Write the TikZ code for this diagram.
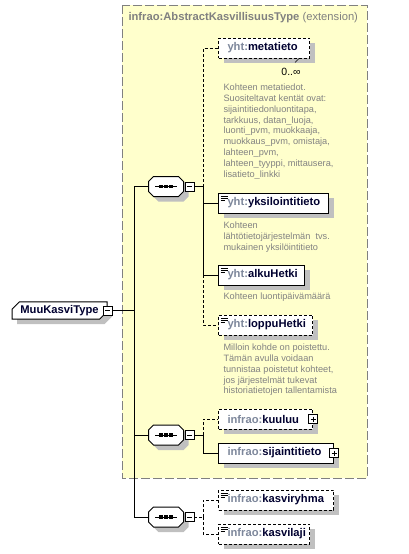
\documentclass[tikz,border=0pt]{standalone}
\usepackage{fontspec}
\setmainfont{Liberation Sans}
\usetikzlibrary{positioning, shapes.misc, shadows}
\definecolor{xsdyellow}{RGB}{255,255,204}
\definecolor{xsdframe}{RGB}{128,128,128}
\definecolor{xsdprefix}{RGB}{125,135,155}
\definecolor{xsdname}{RGB}{0,0,48}
\definecolor{xsddesc}{RGB}{130,130,130}
\definecolor{xsdshadow}{RGB}{192,192,192}
\newcommand{\elemfont}{\bfseries\fontsize{11.2}{13}\selectfont}
\newcommand{\descfont}{\fontsize{9.2}{10.8}\selectfont}
\newcommand{\qname}[2]{{\color{xsdprefix}#1:}{\color{xsdname}#2}}
% sequence compositor drawn round a named spot
\newcommand{\seqglyph}[1]{%
  \draw[fill=white, shade] ([xshift=5pt]#1.north west) -- ([xshift=-5pt]#1.north east)
    -- ([yshift=-5pt]#1.north east) -- ([yshift=5pt]#1.south east)
    -- ([xshift=-5pt]#1.south east) -- ([xshift=5pt]#1.south west)
    -- ([yshift=5pt]#1.south west) -- ([yshift=-5pt]#1.north west) -- cycle;
  \draw[line width=0.8pt] ([xshift=-11pt]#1.center) -- ([xshift=11pt]#1.center);
  \foreach \dx in {-5,0,5}
    \fill ([xshift=\dx pt]#1.center) +(-2,-1.8) rectangle +(2,1.8);
}

\begin{document}
\begin{tikzpicture}[
    x=1pt, y=-1pt, line width=1pt,
    shade/.style={drop shadow={shadow xshift=5pt, shadow yshift=-5pt, fill=xsdshadow, opacity=1}},
    opt/.style={dash pattern=on 3pt off 2pt},
    elem/.style={draw, fill=white, shade, anchor=west, minimum height=20pt, inner xsep=9pt, inner ysep=0pt, text width=#1, align=left, font=\elemfont},
    simple/.style={path picture={
        \draw[solid, line width=0.8pt] ([xshift=2pt, yshift=-3pt]path picture bounding box.north west) -- ++(7,0);
        \draw[solid, line width=0.8pt] ([xshift=2pt, yshift=-5pt]path picture bounding box.north west) -- ++(7,0);
        \draw[solid, line width=0.8pt] ([xshift=2pt, yshift=-7pt]path picture bounding box.north west) -- ++(4,0);
      }},
    toggle/.style={draw, solid, fill=white, minimum size=9pt, inner sep=0pt, line width=0.8pt},
    minus/.style={toggle, path picture={
        \draw ([xshift=2pt]path picture bounding box.west) -- ([xshift=-2pt]path picture bounding box.east);
      }},
    plus/.style={toggle, path picture={
        \draw ([xshift=2pt]path picture bounding box.west) -- ([xshift=-2pt]path picture bounding box.east);
        \draw ([yshift=-2pt]path picture bounding box.north) -- ([yshift=2pt]path picture bounding box.south);
      }},
    seqspot/.style={rectangle, minimum width=34pt, minimum height=19pt, inner sep=0pt},
    roottype/.style={chamfered rectangle, chamfered rectangle xsep=4pt, chamfered rectangle corners={north west, south east},
      draw, fill=white, shade, minimum width=95pt, minimum height=17pt, inner sep=0pt, font=\elemfont, text=xsdname},
    desc/.style={anchor=north west, inner sep=0pt, align=left, text=xsddesc, font=\descfont}
  ]
    \useasboundingbox (0,0) rectangle (409,554);

    % extension frame
    \draw[xsdframe, fill=xsdyellow, dash pattern=on 9pt off 3pt] (122,5) rectangle (367,478);
    \node[anchor=west, inner sep=0pt, text=xsdframe, font=\elemfont] (exttitle) at (128,18)
      {infrao:AbstractKasvillisuusType \mdseries(extension)};

    % root type
    \node[roottype] (root) at (59.5,310.5) {MuuKasviType\hspace{6pt}};
    \node[minus] (root-tog) at (root.east) {};

    % sequences
    \node[seqspot] (seq1) at (166,186.5) {};
    \seqglyph{seq1}
    \node[minus, right=1pt of seq1] (seq1-tog) {};
    \node[seqspot] (seq2) at (166,435) {};
    \seqglyph{seq2}
    \node[minus, right=1pt of seq2] (seq2-tog) {};
    \node[seqspot] (seq3) at (166,517) {};
    \seqglyph{seq3}
    \node[minus, right=1pt of seq3] (seq3-tog) {};

    % elements
    \node[elem=73pt, opt] (metatieto) at (218,48) {\qname{yht}{metatieto}};
    \node[font=\fontsize{10.5}{12}\selectfont, inner sep=0pt] (metaocc) at (291,72) {0..∞};
    \draw[line width=0.7pt] ([xshift=-11pt]metatieto.south east) -- ++(-4,4);
    \node[desc] (metatieto-doc) at (223,83.5) {Kohteen metatiedot.\\
      Suositeltavat kentät ovat:\\ sijaintitiedonluontitapa,\\ tarkkuus, datan\_luoja,\\
      luonti\_pvm, muokkaaja,\\ muokkaus\_pvm, omistaja,\\ lahteen\_pvm,\\
      lahteen\_tyyppi, mittausera,\\ lisatieto\_linkki};

    \node[elem=92pt, simple] (yksilointitieto) at (218,203) {\qname{yht}{yksilointitieto}};
    \node[desc] (yksilointitieto-doc) at (223,221.5) {Kohteen\\
      lähtötietojärjestelmän\ \ tvs.\\ mukainen yksilöintitieto};

    \node[elem=68pt, simple] (alkuHetki) at (218,275) {\qname{yht}{alkuHetki}};
    \node[desc] (alkuHetki-doc) at (223,292.5) {Kohteen luontipäivämäärä};

    \node[elem=76pt, simple, opt] (loppuHetki) at (218,325) {\qname{yht}{loppuHetki}};
    \node[desc] (loppuHetki-doc) at (223,343.5) {Milloin kohde on poistettu.\\
      Tämän avulla voidaan\\ tunnistaa poistetut kohteet,\\ jos järjestelmät tukevat\\
      historiatietojen tallentamista};

    \node[elem=76pt, opt] (kuuluu) at (218,419) {\qname{infrao}{kuuluu}};
    \node[plus] (kuuluu-tog) at (kuuluu.east) {};
    \node[elem=97pt] (sijaintitieto) at (218,453) {\qname{infrao}{sijaintitieto}};
    \node[plus] (sijaintitieto-tog) at (sijaintitieto.east) {};

    \node[elem=97pt, simple, opt] (kasviryhma) at (218,500) {\qname{infrao}{kasviryhma}};
    \node[elem=73pt, simple, opt] (kasvilaji) at (218,534) {\qname{infrao}{kasvilaji}};

    % connectors
    \coordinate (trunk) at (134,0);
    \coordinate (fork) at (203,0);
    \draw (root-tog.east) -- (root-tog.east -| trunk);
    \draw (seq1.west -| trunk) -- (seq3.west -| trunk);
    \draw (seq1.west -| trunk) -- (seq1.west);
    \draw (seq2.west -| trunk) -- (seq2.west);
    \draw (seq3.west -| trunk) -- (seq3.west);

    \draw (seq1-tog.east) -- (seq1-tog.east -| fork);
    \draw[opt] (seq1-tog.east -| fork) |- (metatieto.west);
    \draw (seq1-tog.east -| fork) |- (yksilointitieto.west);
    \draw (seq1-tog.east -| fork) |- (alkuHetki.west);
    \draw[opt] (alkuHetki.west -| fork) |- (loppuHetki.west);

    \draw (seq2-tog.east) -- (seq2-tog.east -| fork);
    \draw[opt] (seq2-tog.east -| fork) |- (kuuluu.west);
    \draw (seq2-tog.east -| fork) |- (sijaintitieto.west);

    \draw[opt] (seq3-tog.east) -- (seq3-tog.east -| fork);
    \draw[opt] (seq3-tog.east -| fork) |- (kasviryhma.west);
    \draw[opt] (seq3-tog.east -| fork) |- (kasvilaji.west);
  \end{tikzpicture}
\end{document}
